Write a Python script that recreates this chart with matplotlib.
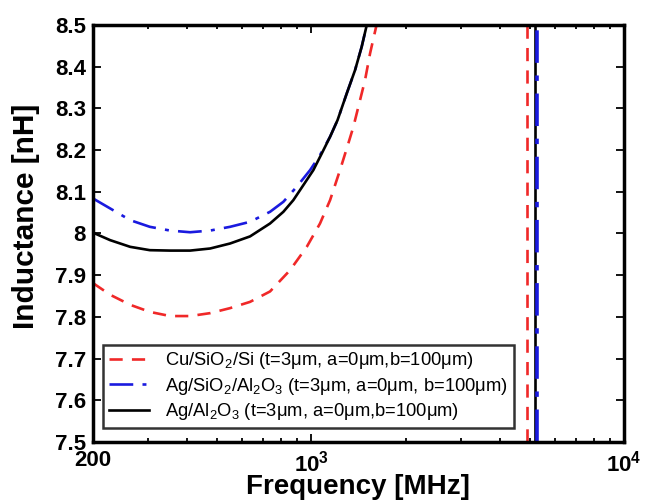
import matplotlib
matplotlib.use("Agg")
import matplotlib.pyplot as plt
import numpy as np
from matplotlib.ticker import FixedLocator, FuncFormatter, NullFormatter

plt.rcParams['font.family'] = ['Liberation Sans', 'DejaVu Sans']
plt.rcParams['mathtext.default'] = 'regular'

# curve data (frequency in MHz, inductance in nH)
freq_cu = [200, 227, 263, 304, 353, 409, 474, 549, 636, 737, 854, 966, 1065, 1147,
           1234, 1312, 1362, 1413, 1484, 1540, 1615]
ind_cu = [7.881, 7.853, 7.829, 7.812, 7.802, 7.802, 7.809, 7.821, 7.836, 7.861, 7.912,
          7.968, 8.024, 8.080, 8.152, 8.216, 8.256, 8.304, 8.368, 8.432, 8.5]

freq_agsio = [200, 227, 263, 304, 353, 409, 474, 549, 636, 737, 813, 897, 990, 1065,
              1147, 1212, 1297, 1379, 1448, 1503]
ind_agsio = [8.084, 8.060, 8.032, 8.016, 8.007, 8.003, 8.007, 8.016, 8.028, 8.052, 8.076,
             8.112, 8.152, 8.188, 8.232, 8.272, 8.336, 8.392, 8.448, 8.5]

freq_agal = [200, 227, 263, 304, 353, 409, 474, 549, 636, 737, 813, 875, 942, 1014,
             1079, 1147, 1212, 1297, 1379, 1448, 1503]
ind_agal = [8.002, 7.984, 7.968, 7.960, 7.959, 7.959, 7.964, 7.976, 7.993, 8.024, 8.052,
            8.080, 8.116, 8.152, 8.192, 8.232, 8.272, 8.336, 8.392, 8.448, 8.5]

# resonance frequencies (vertical jumps of each curve)
res_cu = 4897
res_agsio = 5270
res_agal = 5191

labels = [
    'Cu/SiO$_2$/Si (t=3\u03bcm, a=0\u03bcm,b=100\u03bcm)',
    'Ag/SiO$_2$/Al$_2$O$_3$ (t=3\u03bcm, a=0\u03bcm, b=100\u03bcm)',
    'Ag/Al$_2$O$_3$ (t=3\u03bcm, a=0\u03bcm,b=100\u03bcm)',
]

fig = plt.figure(figsize=(6.49, 5.03), dpi=100)
ax = fig.add_axes([0.1433, 0.1213, 0.8182, 0.829])

red = '#f02828'
blue = '#1a1adf'
dashdot = (0, (9, 3.5, 1.5, 3.5))

ax.plot(freq_cu, ind_cu, color=red, linestyle='--', dashes=(5, 3.5), lw=1.9, label=labels[0])
ax.plot(freq_agsio, ind_agsio, color=blue, linestyle=dashdot, lw=1.9, label=labels[1])
ax.plot(freq_agal, ind_agal, color='black', linestyle='-', lw=1.9, label=labels[2])

ax.axvline(res_cu, color=red, linestyle='--', dashes=(5, 3.5), lw=1.9)
ax.axvline(res_agal, color='black', lw=1.9)
ax.axvline(res_agsio, color=blue, linestyle=dashdot, lw=2.6)

ax.set_xscale('log')
ax.set_xlim(200, 1e4)
ax.set_ylim(7.5, 8.5)

ax.xaxis.set_major_locator(FixedLocator([200, 1000, 10000]))
ax.set_xticklabels(['200', '$10^3$', '$10^4$'])
minors = [300, 400, 500, 600, 700, 800, 900] + [2000, 3000, 4000, 5000, 6000, 7000, 8000, 9000]
ax.xaxis.set_minor_locator(FixedLocator(minors))
ax.xaxis.set_minor_formatter(NullFormatter())

ax.yaxis.set_major_locator(FixedLocator(np.round(np.arange(7.5, 8.51, 0.1), 1)))
ax.yaxis.set_major_formatter(FuncFormatter(lambda v, p: '%g' % v))

ax.tick_params(which='both', direction='in', top=True, right=True, width=1.3)
ax.tick_params(which='major', length=6, labelsize=16)
ax.tick_params(axis='x', which='major', pad=6)
ax.tick_params(axis='y', which='major', pad=5)
ax.tick_params(which='minor', length=3)
for lab in ax.get_xticklabels() + ax.get_yticklabels():
    lab.set_fontweight('bold')
for s in ax.spines.values():
    s.set_linewidth(2.5)

ax.set_xlabel('Frequency [MHz]', fontsize=20, fontweight='bold')
ax.set_ylabel('Inductance [nH]', fontsize=21.5, fontweight='bold')
ax.xaxis.set_label_coords(0.499, -0.077)
ax.yaxis.set_label_coords(-0.1, 0.542)

leg = ax.legend(loc='lower left', bbox_to_anchor=(0.019, 0.034), borderaxespad=0,
                fontsize=13.2, frameon=True, fancybox=False, edgecolor='black',
                handlelength=2.2, borderpad=0.3, labelspacing=0.25, handletextpad=0.9)
leg.get_frame().set_linewidth(1.8)

fig.savefig('out.png', dpi=100)
